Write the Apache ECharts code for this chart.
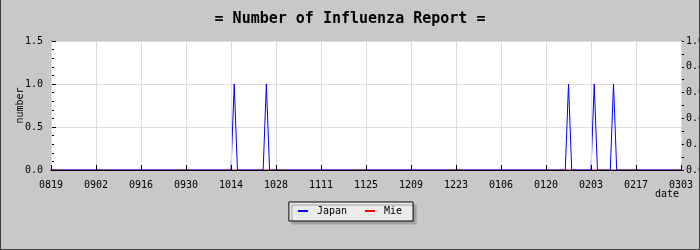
<!DOCTYPE html>
<html><head><meta charset="utf-8">
<script src="https://cdn.jsdelivr.net/npm/echarts@6/dist/echarts.min.js"></script>
<style>html,body{margin:0;padding:0;background:#c8c8c8}#c{width:700px;height:250px}</style>
</head><body><div id="c"></div>
<script>
const titleText = '= Number of Influenza Report =';
const yAxisName = 'number';
const xAxisName = 'date';
const seriesNames = ['Japan', 'Mie'];
const tickLabels = ['0819','0902','0916','0930','1014','1028','1111','1125','1209','1223','0106','0120','0203','0217','0303'];
const firstDay = '2008-08-19';
const dayCount = 197;
const japanDates = ['1015', '1025', '0127', '0204', '0210'];
const japanValues = [1, 1, 1, 1, 1];
const mieDates = [];
const mieValues = [];

// daily categories MMDD
const categories = [];
{
  const d0 = new Date(firstDay + 'T00:00:00Z');
  for (let i = 0; i < dayCount; i++) {
    const d = new Date(d0.getTime() + i * 86400000);
    const mm = String(d.getUTCMonth() + 1).padStart(2, '0');
    const dd = String(d.getUTCDate()).padStart(2, '0');
    categories.push(mm + dd);
  }
}
function build(dates, vals) {
  return categories.map(c => { const k = dates.indexOf(c); return k >= 0 ? vals[k] : 0; });
}
const japanData = build(japanDates, japanValues);
const mieData = build(mieDates, mieValues);

const FONT = 'DejaVu Sans Mono';
const chart = echarts.init(document.getElementById('c'), null, {renderer: 'canvas'});
chart.setOption({
  backgroundColor: '#c8c8c8',
  animation: false,
  textStyle: {fontFamily: FONT, color: '#000'},
  title: {
    text: titleText, left: 'center', top: 7,
    textStyle: {fontFamily: FONT, fontSize: 15, fontWeight: 'bold', color: '#000'}
  },
  legend: {
    data: seriesNames, left: 'center', top: 202,
    icon: 'rect', itemWidth: 10, itemHeight: 2, itemGap: 18,
    padding: [4, 11, 5, 9],
    backgroundColor: '#ebebeb', borderColor: '#000', borderWidth: 1,
    shadowColor: '#a0a0a0', shadowOffsetX: 3, shadowOffsetY: 3, shadowBlur: 0,
    textStyle: {fontFamily: FONT, fontSize: 10, color: '#000', padding: [0, 0, 0, 4]}
  },
  grid: {left: 51, right: 19, top: 41, bottom: 80, show: true, backgroundColor: '#fff', borderWidth: 0,
    containLabel: false, outerBoundsMode: 'none'},
  xAxis: {
    type: 'category', data: categories, boundaryGap: false, z: 3,
    axisLine: {show: true, lineStyle: {color: '#000', width: 1}},
    axisTick: {show: true, inside: true, length: 5, interval: 13, lineStyle: {color: '#000'}},
    axisLabel: {interval: 13, margin: 10, fontSize: 10, fontFamily: FONT, color: '#000',
      formatter: (v, i) => tickLabels[Math.round(i / 14)] },
    splitLine: {show: true, interval: 13, lineStyle: {color: '#dcdcdc', width: 1}}
  },
  yAxis: [{
    type: 'value', min: 0, max: 1.5, interval: 0.5, position: 'left',
    name: yAxisName, nameLocation: 'middle', nameRotate: 90, nameGap: 26, nameMoveOverlap: false,
    nameTextStyle: {fontFamily: FONT, fontSize: 10, color: '#000'},
    axisLine: {show: true, lineStyle: {color: '#000', width: 1}},
    axisTick: {show: true, inside: true, length: 5, lineStyle: {color: '#000'}},
    minorTick: {show: true, splitNumber: 5, length: 3, lineStyle: {color: '#000'}},
    axisLabel: {margin: 8, fontSize: 10, fontFamily: FONT, color: '#000', formatter: v => v.toFixed(1)},
    splitLine: {show: true, lineStyle: {color: '#dcdcdc', width: 1}}
  }, {
    type: 'value', min: 0, max: 1, interval: 0.2, position: 'right',
    axisLine: {show: true, lineStyle: {color: '#000', width: 1}},
    axisTick: {show: true, inside: false, length: 3, lineStyle: {color: '#000'}},
    minorTick: {show: true, splitNumber: 2, length: 3, lineStyle: {color: '#000'}},
    axisLabel: {margin: 5, fontSize: 10, fontFamily: FONT, color: '#000', formatter: v => v.toFixed(1)},
    splitLine: {show: false}
  }],
  series: [{
    name: seriesNames[0], type: 'line', data: japanData, showSymbol: false, symbol: 'none',
    color: '#0000ff', lineStyle: {color: '#0000ff', width: 1}, yAxisIndex: 0, z: 2
  }, {
    name: seriesNames[1], type: 'line', data: mieData, showSymbol: false, symbol: 'none',
    color: '#ff0000', lineStyle: {color: '#ff0000', width: 1}, yAxisIndex: 0, z: 1
  }],
  graphic: [
    {type: 'text', left: 655, top: 189, style: {text: xAxisName, font: '10px "DejaVu Sans Mono"', fill: '#000'}},
    {type: 'line', shape: {x1: 0.5, y1: 0, x2: 0.5, y2: 250}, style: {stroke: '#404040', lineWidth: 1}, z: 100},
    {type: 'line', shape: {x1: 699.5, y1: 0, x2: 699.5, y2: 250}, style: {stroke: '#404040', lineWidth: 1}, z: 100},
    {type: 'line', shape: {x1: 0, y1: 249.5, x2: 700, y2: 249.5}, style: {stroke: '#404040', lineWidth: 1}, z: 100}
  ]
});
</script></body></html>
